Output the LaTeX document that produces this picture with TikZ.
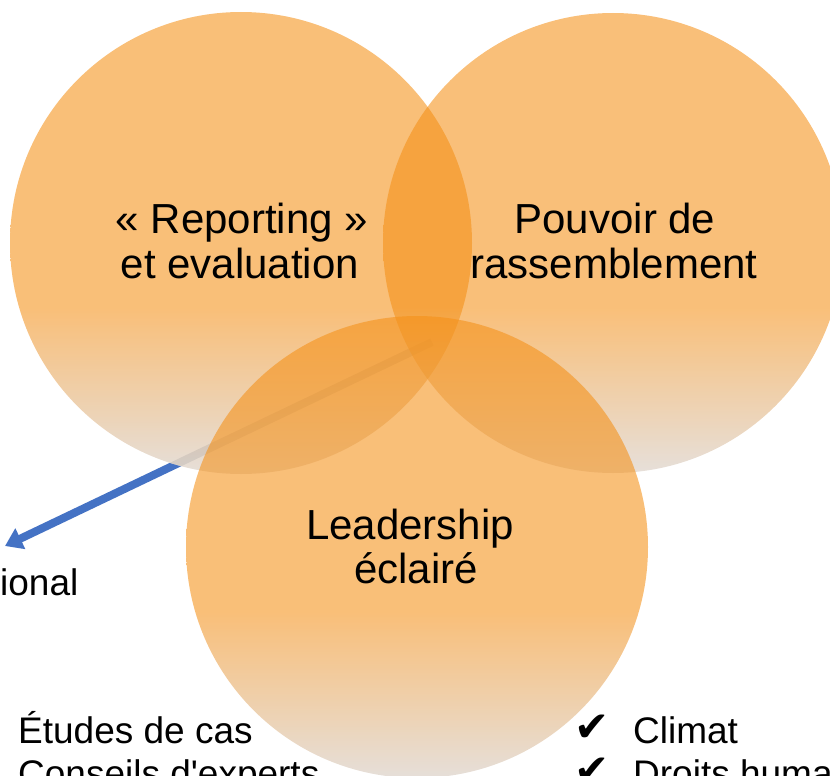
\documentclass[tikz,border=0pt]{standalone}
\usepackage{fontspec}
\setmainfont{Liberation Sans}
\newfontfamily\lsans{Liberation Sans}
\newfontfamily\dvfont{DejaVu Sans}
\usetikzlibrary{arrows.meta,calc}
\definecolor{orng}{RGB}{245,144,22}
\definecolor{botc}{RGB}{212,200,190}
\definecolor{arrblue}{RGB}{68,114,196}
\pgfdeclareverticalshading{circfade}{100bp}{color(0bp)=(botc); color(25bp)=(botc); color(43bp)=(orng); color(100bp)=(orng)}
\tikzset{
  venn/.style={shading=circfade, fill opacity=0.575},
  bigtxt/.style={anchor=base, inner sep=0pt, font=\fontsize{42}{45}\selectfont},
  listtxt/.style={anchor=base west, inner sep=0pt, font=\lsans\fontsize{37}{43}\selectfont},
  chk/.style={anchor=base west, inner sep=0pt, font=\dvfont\fontsize{42}{46}\selectfont},
  bluearrow/.style={draw=arrblue, line width=8pt, -{Triangle[length=17pt,width=22pt]}},
  hiddenarrow/.style={draw=arrblue!45!black, line width=8pt, draw opacity=0.2}
}
\begin{document}
\begin{tikzpicture}[x=1pt,y=-1pt]
\useasboundingbox (0,0) rectangle (830,776);
\clip (0,0) rectangle (830,776);
\coordinate (as) at (432,342);
\coordinate (ae) at (5,546);
\draw[bluearrow] (as) -- (ae);
% hide the arrow under the circles
\fill[white] (241,243) circle[radius=231pt];
\fill[white] (417,547) circle[radius=231pt];
\begin{scope}
  \clip (241,243) circle[radius=231pt];
  \draw[hiddenarrow] (as) -- (ae);
\end{scope}
\shade[venn] (241,243) circle[radius=231pt];
\shade[venn] (613,243) circle[radius=230pt];
\shade[venn] (417,547) circle[radius=231pt];
\node[bigtxt] (l1) at (242,233) {« Reporting »};
\node[bigtxt] (l2) at (240,278) {et evaluation};
\node[bigtxt] (r1) at (615,233) {Pouvoir de};
\node[bigtxt] (r2) at (614,278) {rassemblement};
\node[bigtxt] (b1) at (410,539) {Leadership};
\node[bigtxt] (b2) at (416,583) {éclairé};
\node[listtxt] (io) at (0,595) {ional};
\node[listtxt] (e1) at (18,743) {Études de cas};
\node[listtxt] (e2) at (18,786) {Conseils d'experts};
\node[chk] (c1) at (574,741) {✔};
\node[listtxt] (t1) at (633,743) {Climat};
\node[chk] (c2) at (574,784) {✔};
\node[listtxt] (t2) at (633,786) {Droits humains};
\end{tikzpicture}
\end{document}
